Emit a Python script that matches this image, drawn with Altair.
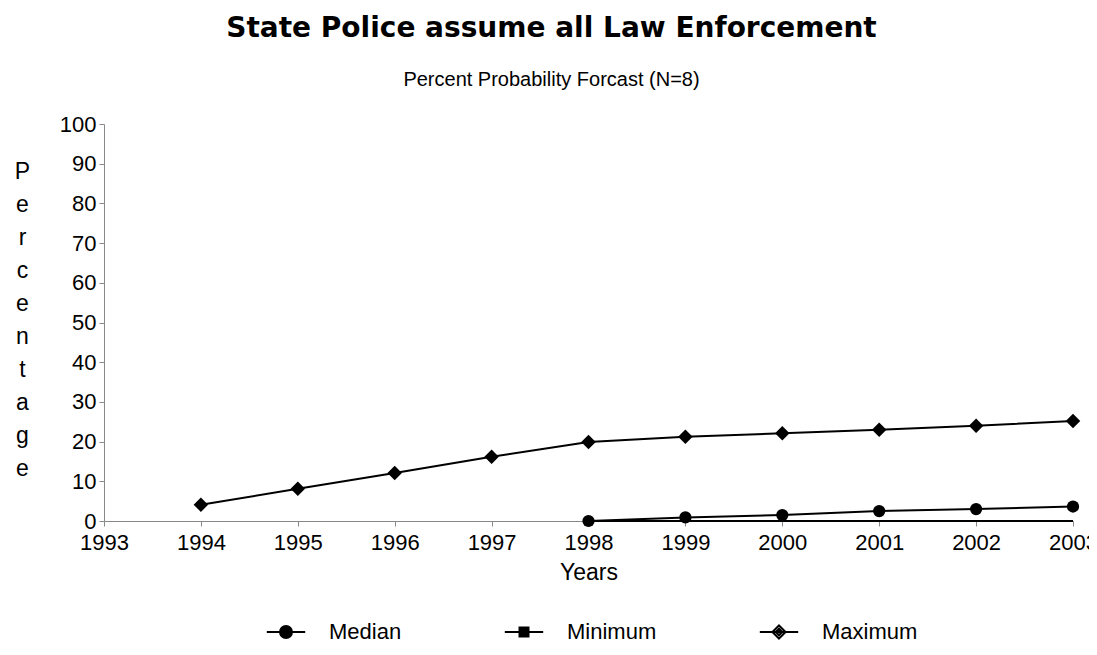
import altair as alt
import pandas as pd

# ---- data ----
max_years = [1994, 1995, 1996, 1997, 1998, 1999, 2000, 2001, 2002, 2003]
maximum = [4.1, 8.1, 12.1, 16.2, 19.9, 21.2, 22.1, 23.0, 24.0, 25.2]
med_years = [1998, 1999, 2000, 2001, 2002, 2003]
median = [0.0, 0.9, 1.5, 2.5, 3.0, 3.65]
min_years = [1998, 1999, 2000, 2001, 2002, 2003]
minimum = [0, 0, 0, 0, 0, 0]
series_names = ["Median", "Minimum", "Maximum"]
x_ticks = [1993, 1994, 1995, 1996, 1997, 1998, 1999, 2000, 2001, 2002, 2003]
y_ticks = [0, 10, 20, 30, 40, 50, 60, 70, 80, 90, 100]

rows = []
for yr, v in zip(med_years, median):
    rows.append({"year": yr, "value": v, "series": "Median"})
for yr, v in zip(min_years, minimum):
    rows.append({"year": yr, "value": v, "series": "Minimum"})
for yr, v in zip(max_years, maximum):
    rows.append({"year": yr, "value": v, "series": "Maximum"})
df = pd.DataFrame(rows)

FONT = "Liberation Sans, Arial"

x_enc = alt.X(
    "year:Q",
    scale=alt.Scale(domain=[1993, 2003], nice=False, zero=False),
    axis=alt.Axis(
        values=x_ticks, format="d", title="Years", grid=False,
        labelFlush=False, labelOverlap=False,
        labelFont=FONT, labelFontSize=22, labelPadding=6, tickSize=5,
        titleFont=FONT, titleFontSize=23, titleFontWeight="normal", titlePadding=8,
    ),
)
y_enc = alt.Y(
    "value:Q",
    scale=alt.Scale(domain=[0, 100], nice=False),
    axis=alt.Axis(
        values=y_ticks, grid=False, labelFlush=False, labelOverlap=False,
        labelFont=FONT, labelFontSize=22, labelPadding=3, tickSize=5,
        title=list("Percentage"), titleAngle=0, titleAlign="center", titleBaseline="top",
        titleX=-82, titleY=36, titleLineHeight=33, titleFont=FONT, titleFontSize=23,
        titleFontWeight="normal",
    ),
)

base = alt.Chart(df).encode(x=x_enc, y=y_enc)

lines = base.mark_line(color="black", strokeWidth=2).encode(detail="series:N")

median_pts = base.transform_filter(alt.datum.series == "Median").mark_point(
    filled=True, color="black", opacity=1, shape="circle", size=150
)
max_pts = base.transform_filter(alt.datum.series == "Maximum").mark_point(
    filled=True, color="black", opacity=1, shape="diamond", size=210
)

legend_paths = [
    "M-3.2,0H3.2M-1,0A1,1 0 1,1 1,0A1,1 0 1,1 -1,0Z",
    "M-3.2,0H3.2M-0.75,-0.75H0.75V0.75H-0.75Z",
    "M-3.2,0H3.2M0,-1.1L1.1,0L0,1.1L-1.1,0ZM0,-0.55L-0.55,0L0,0.55L0.55,0Z",
]

LEG = dict(
    title=None, orient="none", legendX=171, legendY=497, direction="horizontal",
    labelFont=FONT, labelFontSize=22, labelColor="black", labelOffset=32,
    columnPadding=98, symbolSize=144, symbolStrokeWidth=2,
    symbolStrokeColor="black", symbolFillColor="black", symbolOpacity=1,
)

legend_layer = base.transform_filter("false").mark_point(
    filled=True, size=144, opacity=1, strokeWidth=2
).encode(
    shape=alt.Shape(
        "series:N",
        scale=alt.Scale(domain=series_names, range=legend_paths),
        legend=alt.Legend(**LEG),
    ),
    stroke=alt.Stroke(
        "series:N",
        scale=alt.Scale(domain=series_names, range=["black", "black", "black"]),
        legend=alt.Legend(**LEG),
    ),
    fill=alt.Fill(
        "series:N",
        scale=alt.Scale(domain=series_names, range=["black", "black", "white"]),
        legend=alt.Legend(**LEG),
    ),
)

chart = (
    alt.layer(lines, median_pts, max_pts, legend_layer)
    .resolve_scale(shape="independent", stroke="independent", fill="independent")
    .properties(
        width=969,
        height=397,
        autosize=alt.AutoSizeParams(type="none"),
        padding={"left": 96, "top": 116, "right": 16, "bottom": 128},
        view=alt.ViewBackground(stroke="transparent", strokeWidth=0, strokeOpacity=0),
        title=alt.TitleParams(
            text="State Police assume all Law Enforcement",
            subtitle="Percent Probability Forcast (N=8)",
            font="DejaVu Sans", fontSize=28, fontWeight="bold", color="black",
            subtitleFont=FONT, subtitleFontSize=20, subtitleColor="black",
            subtitlePadding=27, anchor="middle", dx=-37, offset=23,
        ),
    )
    .configure_view(stroke="transparent", strokeWidth=0, strokeOpacity=0)
    .configure_axis(
        grid=False, domainColor="black", domainWidth=2, tickColor="black", tickWidth=1.5,
        labelColor="black", titleColor="black",
    )
    .configure(background="white")
)

chart.save("out.html", embed_options={"renderer": "svg", "actions": False})
